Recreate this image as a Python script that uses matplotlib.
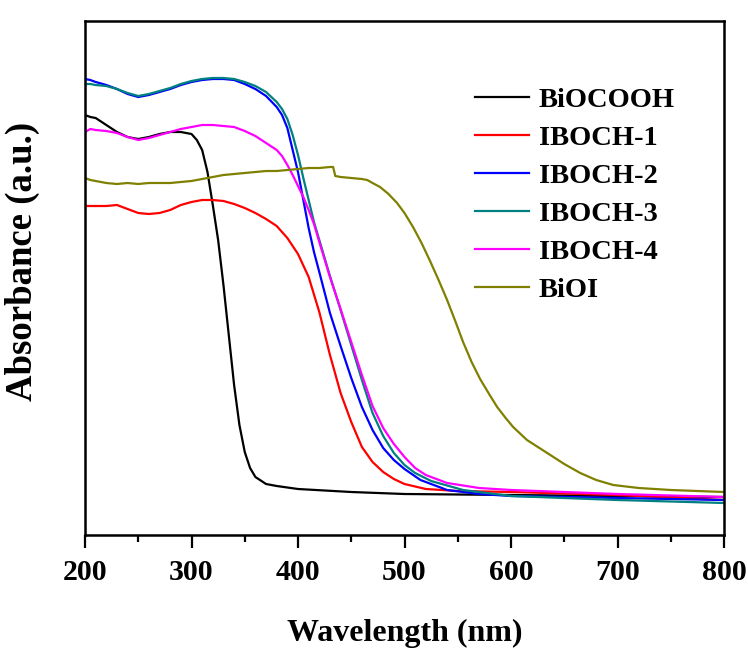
import matplotlib
matplotlib.use("Agg")
import matplotlib.pyplot as plt
from matplotlib.ticker import MultipleLocator

plt.rcParams['font.family'] = ['Liberation Serif', 'DejaVu Serif']
plt.rcParams['font.weight'] = 'bold'

# ---- data (absorbance in arbitrary units) ----
wl_bocooh = [200, 205, 210, 220, 230, 240, 250, 260, 270, 280, 290, 300, 305, 310, 315, 320,
             325, 330, 335, 340, 345, 350, 355, 360, 370, 380, 400, 450, 500, 600, 700, 800]
abs_bocooh = [4.20, 4.18, 4.17, 4.10, 4.03, 3.98, 3.96, 3.98, 4.01, 4.03, 4.03, 4.01, 3.95, 3.85,
              3.63, 3.30, 2.95, 2.50, 2.00, 1.50, 1.10, 0.83, 0.67, 0.58, 0.51, 0.49, 0.46, 0.43,
              0.41, 0.40, 0.39, 0.38]

wl_iboch1 = [200, 220, 230, 240, 250, 260, 270, 280, 290, 300, 310, 320, 330, 340, 350, 360, 370,
             380, 390, 400, 410, 420, 430, 440, 450, 460, 470, 480, 490, 500, 520, 550, 600, 700, 800]
abs_iboch1 = [3.29, 3.29, 3.30, 3.26, 3.22, 3.21, 3.22, 3.25, 3.30, 3.33, 3.35, 3.35, 3.34, 3.31,
              3.27, 3.22, 3.16, 3.09, 2.97, 2.81, 2.58, 2.23, 1.80, 1.42, 1.13, 0.88, 0.73, 0.63,
              0.56, 0.51, 0.46, 0.44, 0.43, 0.40, 0.35]

wl_iboch2 = [200, 205, 210, 220, 230, 240, 250, 260, 270, 280, 290, 300, 310, 320, 330, 340, 350,
             360, 370, 380, 385, 390, 395, 400, 405, 410, 415, 420, 430, 440, 450, 460, 470, 480,
             490, 500, 515, 540, 570, 600, 700, 800]
abs_iboch2 = [4.56, 4.55, 4.53, 4.50, 4.46, 4.41, 4.38, 4.40, 4.43, 4.46, 4.50, 4.53, 4.55, 4.56,
              4.56, 4.55, 4.51, 4.46, 4.39, 4.28, 4.20, 4.07, 3.85, 3.63, 3.35, 3.07, 2.83, 2.63,
              2.22, 1.89, 1.57, 1.28, 1.05, 0.87, 0.75, 0.66, 0.55, 0.45, 0.41, 0.39, 0.37, 0.35]

wl_iboch3 = [200, 205, 210, 220, 230, 240, 250, 260, 270, 280, 290, 300, 310, 320, 330, 340, 350,
             360, 370, 380, 385, 390, 395, 400, 405, 410, 415, 420, 425, 430, 440, 450, 460, 470,
             480, 490, 500, 510, 525, 555, 600, 700, 800]
abs_iboch3 = [4.51, 4.51, 4.50, 4.49, 4.46, 4.42, 4.39, 4.41, 4.44, 4.47, 4.51, 4.54, 4.56, 4.57,
              4.57, 4.56, 4.53, 4.49, 4.43, 4.33, 4.26, 4.16, 4.00, 3.80, 3.57, 3.35, 3.13, 2.95,
              2.77, 2.59, 2.25, 1.90, 1.55, 1.22, 0.99, 0.82, 0.70, 0.62, 0.54, 0.45, 0.39, 0.35,
              0.32]

wl_iboch4 = [200, 205, 210, 220, 230, 240, 250, 260, 270, 280, 290, 300, 310, 320, 330, 340, 350,
             360, 370, 380, 385, 390, 395, 400, 405, 410, 415, 420, 430, 440, 450, 460, 470, 480,
             490, 500, 510, 520, 540, 570, 600, 700, 800]
abs_iboch4 = [4.03, 4.06, 4.05, 4.04, 4.02, 3.98, 3.95, 3.97, 4.00, 4.03, 4.06, 4.08, 4.10, 4.10,
              4.09, 4.08, 4.04, 3.99, 3.92, 3.85, 3.79, 3.70, 3.60, 3.49, 3.38, 3.25, 3.11, 2.93,
              2.58, 2.26, 1.93, 1.60, 1.29, 1.07, 0.91, 0.78, 0.67, 0.60, 0.52, 0.47, 0.45, 0.41,
              0.38]

wl_bioi = [200, 205, 210, 220, 230, 240, 250, 260, 270, 280, 290, 300, 310, 320, 330, 340, 350,
           360, 370, 380, 390, 400, 410, 420, 430, 433, 435, 440, 450, 460, 465, 470, 477, 485,
           493, 500, 508, 516, 524, 532, 540, 548, 555, 563, 571, 580, 587, 595, 602, 615, 634,
           650, 665, 680, 696, 720, 750, 800]
abs_bioi = [3.57, 3.55, 3.54, 3.52, 3.51, 3.52, 3.51, 3.52, 3.52, 3.52, 3.53, 3.54, 3.56, 3.58,
            3.60, 3.61, 3.62, 3.63, 3.64, 3.64, 3.65, 3.66, 3.67, 3.67, 3.68, 3.68, 3.59, 3.58,
            3.57, 3.56, 3.55, 3.52, 3.48, 3.41, 3.32, 3.22, 3.08, 2.92, 2.74, 2.55, 2.35, 2.13,
            1.93, 1.73, 1.56, 1.40, 1.28, 1.17, 1.08, 0.95, 0.82, 0.71, 0.62, 0.55, 0.50, 0.47,
            0.45, 0.43]

labels = ["BiOCOOH", "IBOCH-1", "IBOCH-2", "IBOCH-3", "IBOCH-4", "BiOI"]
colors = ["#000000", "#FF0000", "#0000FF", "#008080", "#FF00FF", "#808000"]
series = [(wl_bocooh, abs_bocooh), (wl_iboch1, abs_iboch1), (wl_iboch2, abs_iboch2),
          (wl_iboch3, abs_iboch3), (wl_iboch4, abs_iboch4), (wl_bioi, abs_bioi)]

fig = plt.figure(figsize=(7.48, 6.48), dpi=100)
ax = fig.add_axes([85 / 748, 1 - 535 / 648, (724 - 85) / 748, (535 - 21) / 648])

for (x, y), lab, c in zip(series, labels, colors):
    ax.plot(x, y, color=c, lw=1.6, label=lab)

ax.set_xlim(200, 800)
ax.set_ylim(0, 5.14)
ax.xaxis.set_major_locator(MultipleLocator(100))
ax.xaxis.set_minor_locator(MultipleLocator(50))
ax.set_yticks([])
ax.tick_params(axis='x', which='major', direction='out', length=9, width=1.6,
               labelsize=21.5, pad=8)
ax.tick_params(axis='x', which='minor', direction='out', length=5, width=1.6)
for sp in ax.spines.values():
    sp.set_linewidth(1.8)

ax.set_xlabel("Wavelength (nm)", fontsize=23, fontweight='bold')
ax.xaxis.set_label_coords(0.5, -0.163)
ax.set_ylabel("Absorbance (a.u.)", fontsize=26.5, fontweight='bold')
ax.yaxis.set_label_coords(-0.071, 0.533)

leg = ax.legend(loc='upper left', bbox_to_anchor=(0.61, 0.871), frameon=False,
                prop={'size': 20.5, 'weight': 'bold'}, handlelength=1.9,
                handletextpad=0.35, labelspacing=0.42, borderpad=0, borderaxespad=0)

fig.savefig("out.png", dpi=100)
